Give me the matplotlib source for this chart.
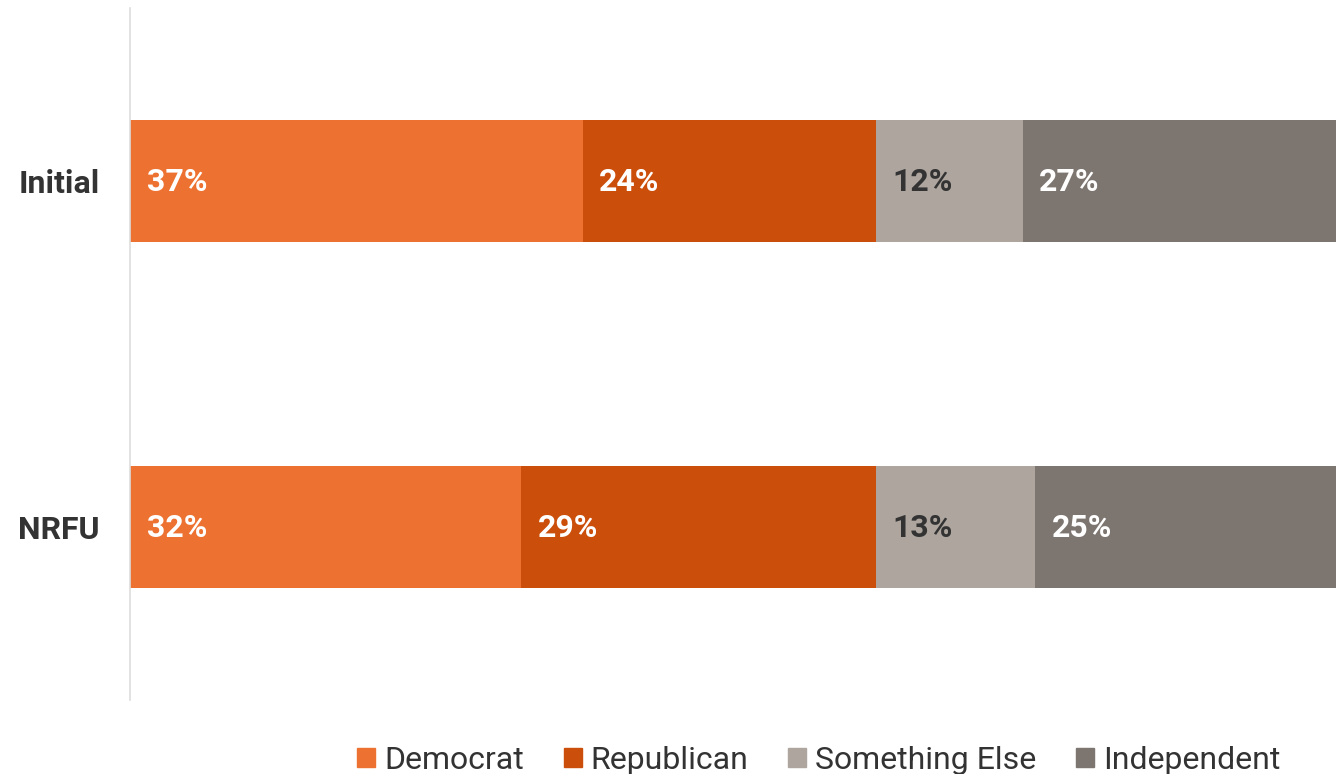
import matplotlib.pyplot as plt
from matplotlib.patches import Patch

plt.rcParams['font.family'] = ['Roboto', 'DejaVu Sans']

# data
groups = ['Initial', 'NRFU']
parties = ['Democrat', 'Republican', 'Something Else', 'Independent']
initial = [37, 24, 12, 27]
nrfu = [32, 29, 13, 25]
values = [initial, nrfu]

colors = ['#ED7130', '#CB4E0B', '#ADA59E', '#7D7570']
text_colors = ['white', 'white', '#333333', 'white']

W, H = 1336, 774
fig = plt.figure(figsize=(W / 100, H / 100), dpi=100)
# axes runs a bit past the right edge, as in the original crop
ax = fig.add_axes([130 / W, 1 - 700 / H, 1223 / W, 692 / H])

ys = list(range(len(groups)))
for j, party in enumerate(parties):
    lefts = [sum(v[:j]) for v in values]
    widths = [v[j] for v in values]
    ax.barh(ys, widths, left=lefts, height=0.352, color=colors[j], label=party)
    for y, l, w in zip(ys, lefts, widths):
        ax.text(l + 1.35, y - 0.005, f'{w}%', va='center_baseline', ha='left',
                color=text_colors[j], fontsize=23, fontweight='bold')

ax.set_xlim(0, 100)
ax.set_ylim(1.5, -0.5)
ax.set_yticks(ys)
ax.set_yticklabels(groups, fontsize=23, fontweight='bold', color='#333333')
ax.tick_params(axis='y', length=0, pad=21.6)
ax.set_xticks([])
for s in ['top', 'right', 'bottom']:
    ax.spines[s].set_visible(False)
ax.spines['left'].set_color('#dddddd')
ax.spines['left'].set_linewidth(1.2)

handles = [Patch(color=c, label=p) for c, p in zip(colors, parties)]
leg = fig.legend(handles=handles, loc='lower center', ncol=4,
                 bbox_to_anchor=(819 / W, -0.038), frameon=False,
                 fontsize=23, handlelength=0.56, handleheight=0.56,
                 handletextpad=0.28, columnspacing=1.25)
for t in leg.get_texts():
    t.set_color('#333333')

fig.savefig('out.png', dpi=100)
